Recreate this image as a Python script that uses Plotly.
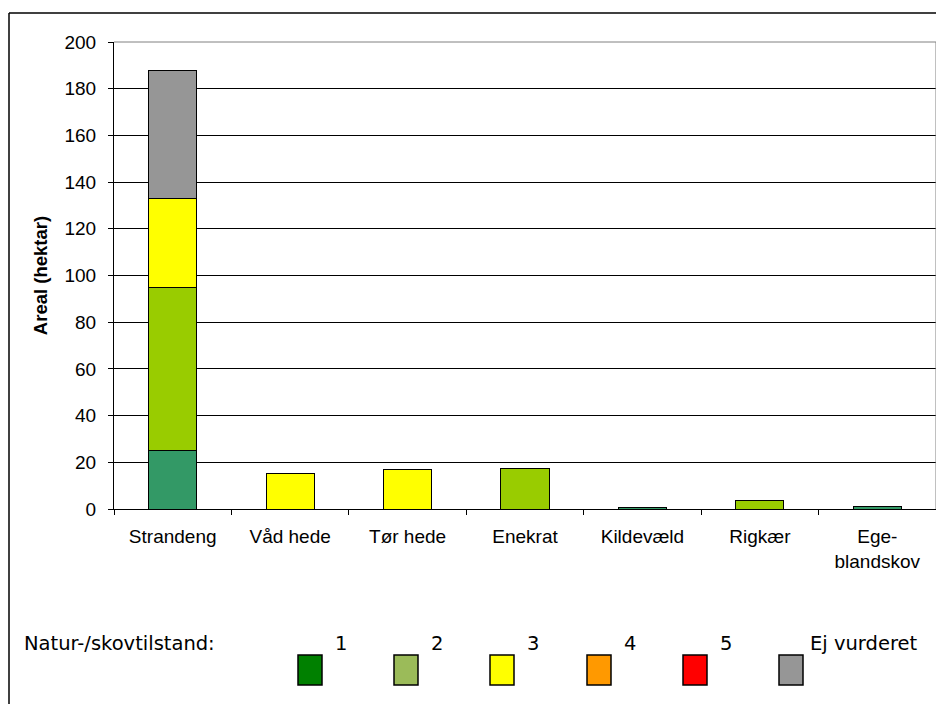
import plotly.graph_objects as go

categories = ["Strandeng", "Våd hede", "Tør hede", "Enekrat", "Kildevæld", "Rigkær", "Ege-<br>blandskov"]
tilstand_1 = [25, 0, 0, 0, 0.5, 0, 0.9]
tilstand_2 = [70, 0, 0, 17.3, 0, 3.8, 0]
tilstand_3 = [38, 15, 17, 0, 0, 0, 0]
tilstand_4 = [0, 0, 0, 0, 0, 0, 0]
tilstand_5 = [0, 0, 0, 0, 0, 0, 0]
ej_vurderet = [55, 0, 0, 0, 0, 0, 0]

series = [
    ("1", tilstand_1, "#339966"),
    ("2", tilstand_2, "#99CC00"),
    ("3", tilstand_3, "#FFFF00"),
    ("4", tilstand_4, "#FF9900"),
    ("5", tilstand_5, "#FF0000"),
    ("Ej vurderet", ej_vurderet, "#969696"),
]

legend_title = "Natur-/skovtilstand:"
legend_labels = ["1", "2", "3", "4", "5", "Ej vurderet"]
legend_colors = ["#008000", "#9BBB59", "#FFFF00", "#FF9900", "#FF0000", "#969696"]

OFF = 8  # page body margin
W, H = 936, 696
L, R, T, B = 106, 8, 34, 195
PW, PH = W - L - R, H - T - B


def px(x):
    return (x - OFF - L) / PW


def py(y):
    return (H - B - (y - OFF)) / PH


fig = go.Figure()
for name, vals, col in series:
    fig.add_trace(go.Bar(
        x=categories, y=vals, name=name,
        marker=dict(color=col, line=dict(color="#000000", width=1)),
        showlegend=False,
    ))

shapes = []
# outer border (top and left visible)
shapes.append(dict(type="line", xref="paper", yref="paper", x0=px(9), x1=px(960), y0=py(13), y1=py(13),
                   line=dict(color="#000000", width=1.5)))
shapes.append(dict(type="line", xref="paper", yref="paper", x0=px(9), x1=px(9), y0=py(13), y1=py(720),
                   line=dict(color="#000000", width=1.5)))
# plot area border top/right gray
shapes.append(dict(type="line", xref="paper", yref="paper", x0=0, x1=1, y0=1, y1=1,
                   line=dict(color="#808080", width=1)))
shapes.append(dict(type="line", xref="paper", yref="paper", x0=1, x1=1, y0=0, y1=1,
                   line=dict(color="#808080", width=1)))

leg_font = dict(family="DejaVu Sans", size=19.5, color="#000000")
annotations = [dict(text=legend_title, xref="paper", yref="paper", x=px(22), y=py(643),
                    xanchor="left", yanchor="middle", showarrow=False, font=leg_font)]
sq_left = [298, 394, 490, 587, 683, 779]
lbl_x = [341, 437, 533, 630, 726, 808]
for i, (lab, col) in enumerate(zip(legend_labels, legend_colors)):
    x0 = sq_left[i]
    shapes.append(dict(type="rect", xref="paper", yref="paper", x0=px(x0), x1=px(x0 + 24),
                       y0=py(685), y1=py(655), fillcolor=col, line=dict(color="#000000", width=1.5)))
    annotations.append(dict(text=lab, xref="paper", yref="paper", x=px(lbl_x[i]), y=py(643),
                            xanchor="center" if i < 5 else "left", yanchor="middle", showarrow=False,
                            font=leg_font))

fig.update_layout(
    barmode="stack",
    bargap=0.59,
    width=W, height=H,
    margin=dict(l=L, r=R, t=T, b=B, autoexpand=False),
    paper_bgcolor="#FFFFFF",
    plot_bgcolor="#FFFFFF",
    font=dict(family="Liberation Sans, Arial", size=18, color="#000000"),
    shapes=shapes,
    annotations=annotations,
    xaxis=dict(
        showline=True, linecolor="#000000", linewidth=1,
        ticks="outside", ticklen=5, tickcolor="#000000", tickson="boundaries",
        showgrid=False, tickfont=dict(size=19), ticklabelstandoff=10,
    ),
    yaxis=dict(
        range=[0, 200], dtick=20, showline=True, linecolor="#000000", linewidth=1,
        ticks="outside", ticklen=5, tickcolor="#000000",
        showgrid=True, gridcolor="#000000", gridwidth=1, zeroline=False,
        tickfont=dict(size=19), ticklabelstandoff=8,
        title=dict(text="<b>Areal (hektar)</b>", font=dict(size=18.5), standoff=12),
    ),
)

fig.write_html("out.html")
